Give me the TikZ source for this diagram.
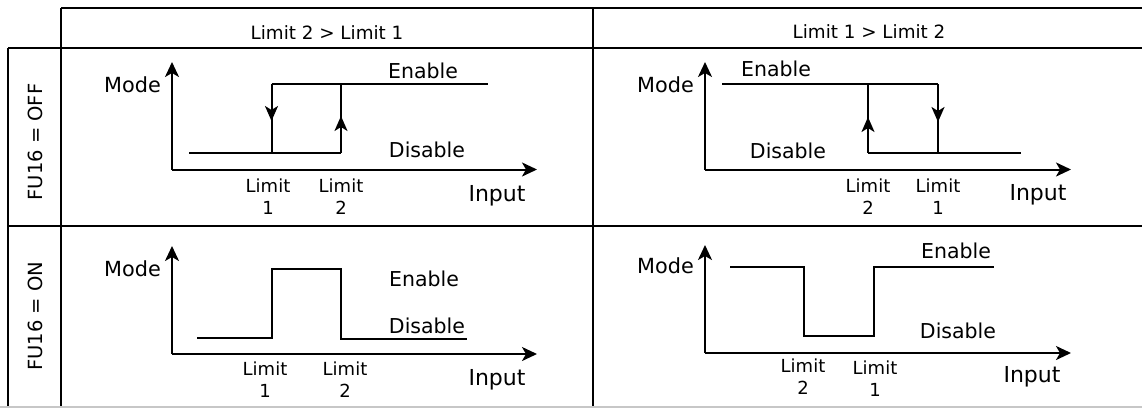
\documentclass[tikz,border=0pt]{standalone}
\usepackage{fontspec}
\setmainfont{DejaVu Sans}
\usetikzlibrary{arrows.meta}
\tikzset{
  tbl/.style={line width=2pt, black},
  axis/.style={line width=2pt, -{Stealth[length=15pt,width=14pt,inset=4pt]}},
  curve/.style={line width=2pt, line join=miter},
  midtip/.style={line width=2pt, -{Stealth[length=15pt,width=13pt,inset=4pt]}},
  hdr/.style={font=\fontsize{18.3}{22}\selectfont, inner sep=0pt, anchor=base},
  rowlab/.style={font=\fontsize{19.5}{23}\selectfont, inner sep=0pt, anchor=base, rotate=90},
  lab/.style={font=\fontsize{20.5}{24}\selectfont, inner sep=0pt, anchor=base},
  modelab/.style={font=\fontsize{20.8}{24}\selectfont, inner sep=0pt, anchor=base east},
  limlab/.style={font=\fontsize{18}{22}\selectfont, inner sep=0pt, anchor=base},
  inlab/.style={font=\fontsize{22}{26}\selectfont, inner sep=0pt, anchor=base},
}
\newcommand{\limlabel}[1]{\begin{tabular}[t]{@{}c@{}}Limit\\#1\end{tabular}}
\begin{document}
\begin{tikzpicture}[x=1pt,y=-1pt]
\useasboundingbox (0,0) rectangle (1142,408);
% table
\draw[tbl] (61,8) -- (1142,8);
\draw[tbl] (8,48) -- (1142,48);
\draw[tbl] (8,226) -- (1142,226);
\draw[tbl] (8,48) -- (8,406);
\draw[tbl] (61,8) -- (61,406);
\draw[tbl] (593,8) -- (593,406);
\draw[line width=2pt, black!22] (0,407) -- (1142,407);
% headers
\node[hdr] (h1) at (327,39) {Limit 2 > Limit 1};
\node[hdr] (h2) at (869,38.5) {Limit 1 > Limit 2};
\node[rowlab] (r1) at (42,142) {FU16 = OFF};
\node[rowlab] (r2) at (42,316) {FU16 = ON};

% ---------- panel 1 ----------
\coordinate (o1) at (172,169.5);
\coordinate (y1) at (172,62);
\coordinate (x1) at (537,169.5);
\draw[axis] (o1) -- (y1);
\draw[axis] (o1) -- (x1);
\draw[curve] (271.5,84) -- (488,84);
\draw[curve] (189,153) -- (341,153);
\draw[curve] (271.5,84) -- (271.5,153);
\draw[curve] (341,84) -- (341,153);
\draw[midtip] (271.5,106) -- (271.5,121);
\draw[midtip] (341,131) -- (341,116);
\node[modelab] (m1) at (161,92.3) {Mode};
\node[lab] (e1) at (423,78) {Enable};
\node[lab] (d1) at (427,157) {Disable};
\node[limlab] (l11) at (268,192) {\limlabel{1}};
\node[limlab] (l12) at (341,192) {\limlabel{2}};
\node[inlab] (i1) at (497,201) {Input};

% ---------- panel 2 ----------
\coordinate (o2) at (705,169.5);
\coordinate (y2) at (705,62);
\coordinate (x2) at (1071,169.5);
\draw[axis] (o2) -- (y2);
\draw[axis] (o2) -- (x2);
\draw[curve] (722,84) -- (938,84);
\draw[curve] (868,153) -- (1021,153);
\draw[curve] (868,84) -- (868,153);
\draw[curve] (938,84) -- (938,153);
\draw[midtip] (868,132) -- (868,117);
\draw[midtip] (938,107) -- (938,122);
\node[modelab] (m2) at (694,92.3) {Mode};
\node[lab] (e2) at (776,76.5) {Enable};
\node[lab] (d2) at (788,158) {Disable};
\node[limlab] (l22) at (868,192) {\limlabel{2}};
\node[limlab] (l21) at (938,192) {\limlabel{1}};
\node[inlab] (i2) at (1038,200) {Input};

% ---------- panel 3 ----------
\coordinate (o3) at (172,354);
\coordinate (y3) at (172,246);
\coordinate (x3) at (537,354);
\draw[axis] (o3) -- (y3);
\draw[axis] (o3) -- (x3);
\draw[curve] (197,338) -- (271.5,338) -- (271.5,269) -- (340.5,269) -- (340.5,339) -- (467,339);
\node[modelab] (m3) at (161,276) {Mode};
\node[lab] (e3) at (424,286) {Enable};
\node[lab] (d3) at (427,333) {Disable};
\node[limlab] (l31) at (265,375) {\limlabel{1}};
\node[limlab] (l32) at (345,375) {\limlabel{2}};
\node[inlab] (i3) at (497,385) {Input};

% ---------- panel 4 ----------
\coordinate (o4) at (705,353);
\coordinate (y4) at (705,245);
\coordinate (x4) at (1071,353);
\draw[axis] (o4) -- (y4);
\draw[axis] (o4) -- (x4);
\draw[curve] (730,267) -- (804,267) -- (804,336) -- (874,336) -- (874,267) -- (994,267);
\node[modelab] (m4) at (694,273) {Mode};
\node[lab] (e4) at (956,258) {Enable};
\node[lab] (d4) at (958,338) {Disable};
\node[limlab] (l42) at (803,372) {\limlabel{2}};
\node[limlab] (l41) at (875,374) {\limlabel{1}};
\node[inlab] (i4) at (1032,382) {Input};
\end{tikzpicture}
\end{document}
